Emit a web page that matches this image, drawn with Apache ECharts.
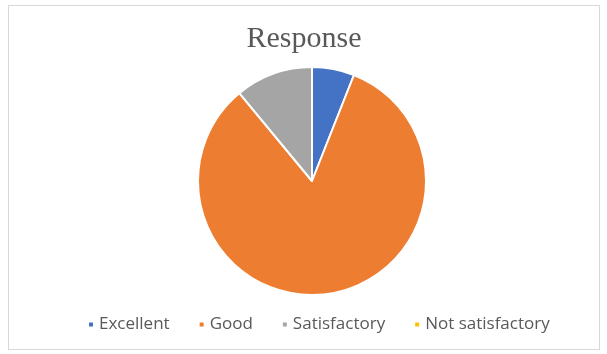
<!DOCTYPE html>
<html>
<head>
<meta charset="utf-8">
<script src="https://cdn.jsdelivr.net/npm/echarts@6/dist/echarts.min.js"></script>
<style>
  html, body { margin: 0; padding: 0; background: #fff; }
  #main { position: absolute; left: 8px; top: 5px; width: 592px; height: 345px; border: 1px solid #d9d9d9; box-sizing: border-box; }
</style>
</head>
<body>
<div id="main"></div>
<script>
// response categories and share (%)
var categories = ['Excellent', 'Good', 'Satisfactory', 'Not satisfactory']
var values = [6, 83, 11, 0]
var colors = ['#4472C4', '#ED7D31', '#A5A5A5', '#FFC000']

var chart = echarts.init(document.getElementById('main'))
chart.setOption({
  animation: false,
  color: colors,
  title: {
    text: 'Response',
    left: 'center',
    top: 13,
    textStyle: {
      fontFamily: 'Liberation Serif',
      fontSize: 30,
      fontWeight: 'normal',
      color: '#595959'
    }
  },
  legend: {
    bottom: 11,
    left: 73,
    icon: 'rect',
    itemWidth: 6,
    itemHeight: 6,
    itemGap: 28,
    textStyle: {
      fontFamily: 'Open Sans',
      fontSize: 17,
      color: '#595959'
    },
    data: categories
  },
  series: [
    {
      type: 'pie',
      center: [303, 175],
      radius: 114,
      startAngle: 90,
      clockwise: true,
      label: { show: false },
      labelLine: { show: false },
      itemStyle: {
        borderColor: '#fff',
        borderWidth: 2
      },
      data: categories.map(function (name, i) {
        return { name: name, value: values[i] }
      })
    }
  ]
})
</script>
</body>
</html>
